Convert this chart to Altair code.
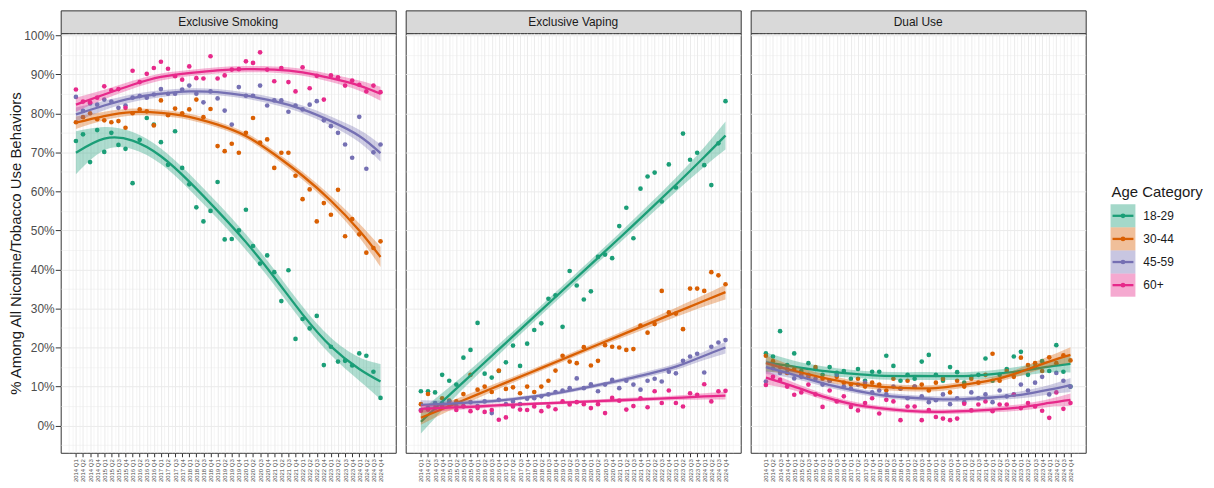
import json
import numpy as np
import pandas as pd
import altair as alt

# ---------------- data ----------------
years = list(range(2014, 2025))
quarters = [f"{y} Q{q}" for y in years for q in range(1, 5)]
panel_names = ["Exclusive Smoking", "Exclusive Vaping", "Dual Use"]
ages = ["18-29", "30-44", "45-59", "60+"]
colors = ["#1B9E77", "#D95F02", "#7570B3", "#E7298A"]
legend_title = "Age Category"
y_title = "% Among All Nicotine/Tobacco Use Behaviors"

# ---- quarterly points (%) ----
smk_18_29 = [72.9, 74.6, 67.5, 75.7, 70.1, 75.0, 71.9, 70.9, 62.1, 73.2, 78.8, 77.1, 72.6, 66.8, 75.4,
             66.0, 61.8, 55.9, 52.3, 55.0, 62.4, 47.7, 47.8, 50.0, 55.3, 46.0, 41.5, 43.6, 39.3, 31.9,
             39.8, 22.2, 27.3, 24.9, 28.1, 15.5, 20.2, 16.4, 16.6, 15.4, 18.5, 17.9, 13.8, 7.1]
smk_30_44 = [77.7, 79.0, 80.0, 78.5, 78.2, 77.7, 78.0, 76.3, 80.0, 81.0, 80.5, 76.9, 83.3, 79.5, 81.2,
             80.0, 81.0, 83.5, 79.0, 81.1, 71.6, 70.3, 72.2, 69.9, 75.0, 78.8, 72.5, 73.3, 66.0, 69.9,
             69.9, 64.0, 58.0, 60.5, 52.3, 57.0, 54.0, 60.4, 48.5, 52.9, 49.0, 44.3, 45.5, 47.2]
smk_45_59 = [84.2, 80.6, 82.5, 82.2, 83.5, 83.0, 81.4, 82.0, 84.0, 84.4, 84.0, 84.8, 86.2, 85.0, 85.0,
             86.1, 87.1, 85.0, 82.8, 85.6, 83.8, 80.7, 77.1, 86.7, 84.5, 84.5, 87.1, 82.0, 83.3, 83.3,
             80.4, 82.0, 81.0, 82.2, 83.1, 78.2, 76.7, 75.0, 72.0, 68.6, 79.1, 65.8, 70.0, 72.0]
smk_60p = [86.1, 83.0, 82.8, 84.0, 86.9, 85.9, 86.2, 81.4, 90.9, 88.0, 90.1, 91.6, 93.2, 91.4, 89.5,
           88.6, 92.0, 89.0, 88.9, 94.6, 88.9, 89.7, 91.2, 91.3, 93.3, 92.9, 95.6, 91.2, 88.2, 91.6,
           88.0, 85.6, 91.8, 86.4, 89.6, 83.5, 89.7, 89.2, 87.1, 88.4, 87.3, 85.6, 87.1, 85.4]

vap_18_29 = [8.8, 8.8, 8.5, 13.0, 11.5, 10.5, 17.4, 19.4, 26.3, 13.3, 12.3, 14.0, 16.2, 20.5, 15.3,
             21.0, 24.5, 26.2, 32.5, 33.4, 25.3, 39.6, 35.9, 32.3, 34.4, 43.2, 43.8, 42.9, 51.1, 55.8,
             48.0, 60.7, 63.8, 64.8, 57.4, 66.9, 61.0, 74.8, 68.1, 69.9, 66.7, 61.6, 72.3, 83.1]
vap_30_44 = [5.5, 8.1, 5.6, 7.0, 6.4, 6.2, 8.1, 13.0, 9.2, 10.0, 8.6, 14.1, 9.4, 9.8, 8.3,
             10.0, 8.6, 10.0, 11.5, 14.1, 17.9, 16.4, 16.0, 20.1, 15.4, 16.6, 20.6, 20.2, 20.0, 19.4,
             19.6, 25.6, 23.8, 26.0, 34.5, 29.0, 28.7, 24.7, 35.1, 35.1, 34.5, 39.3, 38.5, 36.2]
vap_45_59 = [4.0, 4.5, 5.8, 5.8, 6.2, 5.0, 4.9, 6.0, 5.0, 6.2, 3.2, 6.6, 5.5, 6.2, 5.5,
             6.9, 7.0, 7.5, 8.0, 8.6, 9.0, 9.6, 12.1, 9.6, 10.6, 8.8, 10.5, 11.7, 9.6, 11.5,
             10.5, 9.2, 11.5, 12.0, 11.3, 13.8, 13.4, 16.6, 17.7, 18.4, 13.6, 20.2, 21.3, 21.9]
vap_60p = [3.8, 4.1, 4.5, 5.0, 5.5, 4.0, 5.0, 3.7, 4.5, 3.5, 4.0, 1.5, 2.1, 4.9, 4.1,
           4.0, 4.9, 3.7, 4.9, 4.2, 6.2, 5.4, 6.0, 5.5, 4.5, 5.5, 3.2, 7.1, 6.4, 4.1,
           5.0, 7.0, 4.7, 8.8, 5.8, 9.0, 5.8, 4.9, 8.3, 7.9, 10.6, 6.2, 8.8, 8.9]

dual_18_29 = [18.5, 17.7, 24.2, 15.5, 18.5, 14.0, 16.0, 14.5, 13.0, 15.0, 13.5, 14.0, 12.0, 14.5, 11.5,
              13.8, 13.8, 17.9, 15.3, 11.5, 13.0, 12.0, 16.4, 18.1, 13.0, 11.5, 15.0, 13.7, 11.0, 12.5,
              13.0, 17.2, 11.5, 13.0, 14.5, 17.7, 18.9, 13.0, 15.0, 16.5, 14.0, 20.6, 13.8, 10.0]
dual_30_44 = [17.9, 16.5, 15.0, 13.5, 14.5, 13.0, 12.5, 15.0, 12.0, 11.5, 12.5, 11.0, 10.5, 12.0, 10.0,
              11.0, 10.5, 9.0, 12.0, 9.5, 11.5, 10.0, 10.5, 9.0, 11.0, 12.0, 8.5, 11.5, 10.0, 12.0,
              11.0, 13.0, 18.4, 11.5, 14.0, 12.5, 17.4, 15.5, 16.0, 14.0, 17.5, 16.0, 18.0, 16.7]
dual_45_59 = [11.3, 14.7, 13.5, 14.5, 12.1, 12.5, 13.0, 12.0, 10.5, 11.5, 13.0, 10.0, 9.5, 10.5, 11.0,
              8.5, 9.0, 8.0, 10.0, 9.5, 7.0, 10.0, 7.5, 6.0, 6.5, 8.0, 5.5, 7.0, 6.0, 8.5,
              7.0, 8.0, 6.0, 9.0, 7.5, 8.0, 10.5, 9.0, 11.0, 12.5, 8.0, 13.5, 11.5, 10.0]
dual_60p = [10.4, 12.5, 11.7, 10.0, 7.9, 8.5, 10.5, 8.0, 4.8, 9.0, 6.2, 7.5, 4.8, 3.9, 5.8,
            7.0, 3.1, 6.6, 6.2, 1.4, 4.9, 4.9, 1.4, 4.0, 2.2, 1.8, 1.4, 1.8, 5.6, 3.9,
            5.4, 6.2, 3.7, 5.4, 5.4, 7.9, 4.5, 5.8, 4.9, 3.8, 2.0, 8.5, 4.3, 5.8]

# ---- fitted smooth curves (%), at these quarter indices ----
fit_q = [1, 5, 9, 13, 17, 21, 25, 29, 33, 37, 41, 44]

fit_smk_18_29 = [69.9, 73.5, 73.0, 69.0, 62.5, 55.0, 47.0, 38.0, 28.5, 20.3, 14.5, 11.3]
fit_smk_30_44 = [77.6, 79.3, 80.3, 80.1, 79.1, 77.1, 74.2, 69.5, 64.0, 57.6, 50.0, 43.2]
fit_smk_45_59 = [79.7, 82.0, 83.9, 85.0, 85.6, 85.4, 84.5, 83.1, 81.0, 78.0, 74.2, 69.8]
fit_smk_60p = [82.2, 84.8, 87.3, 89.3, 90.3, 91.0, 91.3, 91.2, 90.5, 89.0, 87.1, 85.0]

fit_vap_18_29 = [1.0, 7.8, 14.5, 21.2, 27.9, 34.6, 41.3, 48.0, 54.8, 61.7, 68.8, 74.3]
fit_vap_30_44 = [2.0, 5.0, 8.0, 11.0, 14.0, 17.0, 20.0, 23.0, 26.0, 29.0, 32.0, 34.2]
fit_vap_45_59 = [5.3, 5.6, 6.0, 6.6, 7.5, 8.6, 10.0, 11.5, 13.2, 15.1, 17.9, 20.0]
fit_vap_60p = [4.3, 4.6, 4.9, 5.3, 5.6, 5.9, 6.2, 6.5, 6.8, 7.1, 7.5, 7.7]

fit_dual_18_29 = [16.2, 15.1, 14.0, 13.3, 12.8, 12.7, 12.7, 12.7, 13.2, 14.0, 15.1, 15.8]
fit_dual_30_44 = [16.0, 14.0, 12.3, 10.9, 10.0, 9.6, 9.6, 10.5, 11.7, 13.8, 16.4, 18.1]
fit_dual_45_59 = [15.0, 13.0, 10.9, 9.2, 7.9, 7.2, 6.8, 6.8, 7.2, 7.9, 9.2, 10.4]
fit_dual_60p = [12.3, 10.0, 7.5, 5.6, 4.5, 3.8, 3.5, 3.7, 4.1, 4.7, 5.8, 6.6]

# ---- half-width of the 95% confidence band (% points) ----
ci_smk_18_29 = [5.5, 3.0, 2.2, 2.0, 2.0, 2.0, 2.0, 2.0, 2.0, 2.2, 3.0, 4.5]
ci_smk_30_44 = [1.6, 1.1, 0.9, 0.8, 0.8, 0.8, 0.8, 0.9, 1.0, 1.2, 1.8, 2.6]
ci_smk_45_59 = [1.8, 1.2, 1.0, 0.9, 0.8, 0.8, 0.8, 0.9, 1.0, 1.2, 1.6, 2.2]
ci_smk_60p = [1.8, 1.2, 1.0, 0.9, 0.8, 0.8, 0.8, 0.8, 0.9, 1.0, 1.3, 1.8]

ci_vap_18_29 = [3.0, 2.0, 1.5, 1.3, 1.2, 1.2, 1.2, 1.3, 1.5, 1.8, 2.5, 3.6]
ci_vap_30_44 = [1.8, 1.2, 1.0, 0.8, 0.7, 0.7, 0.7, 0.8, 1.0, 1.2, 1.5, 1.9]
ci_vap_45_59 = [1.2, 0.8, 0.6, 0.5, 0.5, 0.5, 0.5, 0.6, 0.7, 0.8, 1.1, 1.5]
ci_vap_60p = [1.0, 0.7, 0.5, 0.5, 0.4, 0.4, 0.4, 0.5, 0.5, 0.6, 0.8, 1.0]

ci_dual_18_29 = [2.5, 1.5, 1.2, 1.0, 1.0, 1.0, 1.0, 1.0, 1.0, 1.2, 1.5, 2.2]
ci_dual_30_44 = [2.0, 1.2, 1.0, 0.8, 0.8, 0.8, 0.8, 0.8, 0.8, 1.0, 1.4, 2.0]
ci_dual_45_59 = [1.8, 1.0, 0.8, 0.7, 0.7, 0.7, 0.7, 0.7, 0.7, 0.9, 1.2, 1.8]
ci_dual_60p = [1.8, 1.0, 0.8, 0.7, 0.6, 0.6, 0.6, 0.6, 0.7, 0.8, 1.0, 1.6]

series = {
    "Exclusive Smoking": [smk_18_29, smk_30_44, smk_45_59, smk_60p],
    "Exclusive Vaping": [vap_18_29, vap_30_44, vap_45_59, vap_60p],
    "Dual Use": [dual_18_29, dual_30_44, dual_45_59, dual_60p],
}
fits = {
    "Exclusive Smoking": [fit_smk_18_29, fit_smk_30_44, fit_smk_45_59, fit_smk_60p],
    "Exclusive Vaping": [fit_vap_18_29, fit_vap_30_44, fit_vap_45_59, fit_vap_60p],
    "Dual Use": [fit_dual_18_29, fit_dual_30_44, fit_dual_45_59, fit_dual_60p],
}
cis = {
    "Exclusive Smoking": [ci_smk_18_29, ci_smk_30_44, ci_smk_45_59, ci_smk_60p],
    "Exclusive Vaping": [ci_vap_18_29, ci_vap_30_44, ci_vap_45_59, ci_vap_60p],
    "Dual Use": [ci_dual_18_29, ci_dual_30_44, ci_dual_45_59, ci_dual_60p],
}

n_q = len(quarters)
pt_rows, sm_rows = [], []
for pname in panel_names:
    for k, age in enumerate(ages):
        for t_, val in enumerate(series[pname][k], start=1):
            pt_rows.append({"panel": pname, "age": age, "t": t_, "value": val / 100})
        for t_, f_, c_ in zip(fit_q, fits[pname][k], cis[pname][k]):
            sm_rows.append({"panel": pname, "age": age, "t": t_, "fit": f_ / 100,
                            "lo": (f_ - c_) / 100, "hi": (f_ + c_) / 100})
points_df = pd.DataFrame(pt_rows)
smooth_df = pd.DataFrame(sm_rows)

# ---------------- scales / axes ----------------
FONT = "Liberation Sans"
PW, PH, SH = 337, 422, 23
color_scale = alt.Scale(domain=ages, range=colors)
x_scale = alt.Scale(domain=[-1.15, n_q + 2.15], nice=False, zero=False)
y_scale = alt.Scale(domain=[-0.0696, 1.005], nice=False, zero=False)

x_vals = [k / 2 for k in range(0, 2 * (n_q + 1) + 1)]
x_minor = f"(datum.value % 1 != 0) || datum.value < 1 || datum.value > {n_q}"
x_label_expr = f"({x_minor}) ? '' : {json.dumps(quarters)}[datum.value - 1]"

y_vals = [round(-0.05 + 0.05 * k, 2) for k in range(0, 22)]
y_minor = "abs(datum.value * 10 - round(datum.value * 10)) > 0.001 || datum.value < 0"


def x_axis():
    return alt.Axis(
        values=x_vals, labelExpr=x_label_expr, title=None, labelAngle=270,
        labelFontSize=6, labelColor="#4d4d4d", labelFont=FONT, labelPadding=2,
        labelOverlap=False, labelBound=False, labelFlush=False,
        tickSize=4, tickColor="#333333",
        tickOpacity={"condition": {"test": x_minor, "value": 0}, "value": 1},
        gridColor="#ebebeb",
        gridWidth={"condition": {"test": x_minor, "value": 0.5}, "value": 1},
        domain=False,
    )


def y_axis(first):
    common = dict(
        values=y_vals, gridColor="#ebebeb",
        gridWidth={"condition": {"test": y_minor, "value": 0.5}, "value": 1},
        domain=False,
    )
    if first:
        return alt.Axis(
            title=y_title, titleFontSize=15, titleFont=FONT, titleFontWeight="normal",
            titleColor="#1a1a1a", titlePadding=0,
            labelExpr=f"({y_minor}) ? '' : format(datum.value, '.0%')",
            labelFontSize=12, labelColor="#4d4d4d", labelFont=FONT, labelPadding=1,
            tickSize=5.5, tickColor="#333333",
            tickOpacity={"condition": {"test": y_minor, "value": 0}, "value": 1},
            **common,
        )
    return alt.Axis(title=None, labels=False, ticks=False, **common)


def panel(idx):
    pname = panel_names[idx]
    first = idx == 0
    pts = points_df[points_df.panel == pname]
    sm = smooth_df[smooth_df.panel == pname]
    X = alt.X("t:Q", scale=x_scale, axis=x_axis())
    C = alt.Color("age:N", scale=color_scale, legend=None)
    layers = [
        alt.Chart(pts).mark_circle(size=22, opacity=1).encode(
            x=X, y=alt.Y("value:Q", scale=y_scale, axis=y_axis(first)), color=C)
    ]
    for a in ages:
        s = sm[sm.age == a]
        layers.append(alt.Chart(s).mark_area(opacity=0.35, interpolate="natural").encode(
            x=X, y=alt.Y("lo:Q", scale=y_scale, axis=y_axis(first)), y2="hi:Q", color=C))
        layers.append(alt.Chart(s).mark_line(strokeWidth=2.3, interpolate="natural").encode(
            x=X, y=alt.Y("fit:Q", scale=y_scale, axis=y_axis(first)), color=C))
    body = alt.layer(*layers).properties(
        width=PW, height=PH,
        view=alt.ViewBackground(fill="white", stroke="#333333", strokeWidth=1))
    strip = alt.Chart(alt.Data(values=[{"label": pname}])).mark_text(
        fontSize=12, font=FONT, color="#1a1a1a", baseline="middle", align="center"
    ).encode(text="label:N", x=alt.value(PW / 2), y=alt.value(SH / 2)).properties(
        width=PW, height=SH,
        view=alt.ViewBackground(fill="#d9d9d9", stroke="#333333", strokeWidth=1))
    return alt.vconcat(strip, body, spacing=0, bounds="flush")


# ---------------- custom legend ----------------
leg_data = pd.DataFrame({"age": ages})
leg_scale = alt.Scale(domain=ages, range=[195, 288], paddingInner=0, paddingOuter=0)
LY = alt.Y("age:N", scale=leg_scale, axis=None)
LYc = alt.Y("age:N", scale=leg_scale, axis=None, bandPosition=0.5)
LC = alt.Color("age:N", scale=color_scale, legend=None)
leg_base = alt.Chart(leg_data)
legend = alt.layer(
    leg_base.mark_rect(opacity=0.4).encode(x=alt.value(15), x2=alt.value(40), y=LY, color=LC),
    leg_base.mark_rule(strokeWidth=2.3).encode(x=alt.value(17), x2=alt.value(38), y=LYc, color=LC),
    leg_base.mark_circle(size=22, opacity=1).encode(x=alt.value(27.5), y=LYc, color=LC),
    leg_base.mark_text(align="left", baseline="middle", fontSize=12, font=FONT, color="#1a1a1a").encode(
        x=alt.value(48), y=LYc, text="age:N"),
    alt.Chart(alt.Data(values=[{"t": legend_title}])).mark_text(
        align="left", baseline="alphabetic", fontSize=15, font=FONT, color="#1a1a1a").encode(
        x=alt.value(16), y=alt.value(188), text="t:N"),
).properties(width=110, height=SH + PH, view=alt.ViewBackground(stroke="transparent"))

chart = alt.hconcat(panel(0), panel(1), panel(2), legend, spacing=8).properties(
    padding={"left": 0, "top": 0, "right": 0, "bottom": 0}
).configure(font=FONT).configure_view(stroke="transparent")

chart.save("out.html", embed_options={"renderer": "svg", "actions": False})
